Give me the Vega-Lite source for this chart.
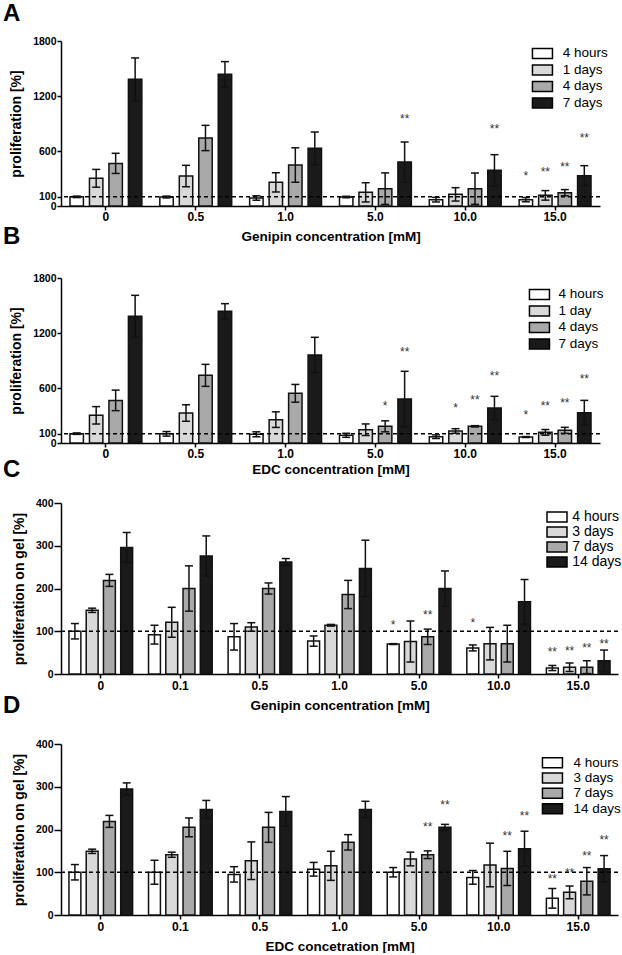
{
"$schema": "https://vega.github.io/schema/vega-lite/v6.json",
"background": "white",
"padding": {"left": 3, "top": 2, "right": 0, "bottom": 0},
"spacing": -18,
"resolve": {"scale": {"fill": "independent", "xOffset": "independent"}},
"datasets": {
"A": [
{"conc":"0","time":"4 hours","mean":100,"lo":92,"hi":108},{"conc":"0","time":"1 days","mean":302,"lo":205,"hi":399},{"conc":"0","time":"4 days","mean":465,"lo":355,"hi":575},{"conc":"0","time":"7 days","mean":1382,"lo":1149,"hi":1615},
{"conc":"0.5","time":"4 hours","mean":98,"lo":88,"hi":108},{"conc":"0.5","time":"1 days","mean":327,"lo":210,"hi":444},{"conc":"0.5","time":"4 days","mean":742,"lo":604,"hi":880},{"conc":"0.5","time":"7 days","mean":1436,"lo":1297,"hi":1575},
{"conc":"1.0","time":"4 hours","mean":87,"lo":63,"hi":111},{"conc":"1.0","time":"1 days","mean":258,"lo":153,"hi":363},{"conc":"1.0","time":"4 days","mean":447,"lo":259,"hi":635},{"conc":"1.0","time":"7 days","mean":629,"lo":451,"hi":807},
{"conc":"5.0","time":"4 hours","mean":98,"lo":90,"hi":106},{"conc":"5.0","time":"1 days","mean":149,"lo":44,"hi":254},{"conc":"5.0","time":"4 days","mean":189,"lo":17,"hi":361},{"conc":"5.0","time":"7 days","mean":480,"lo":262,"hi":698},
{"conc":"10.0","time":"4 hours","mean":69,"lo":44,"hi":94},{"conc":"10.0","time":"1 days","mean":127,"lo":54,"hi":200},{"conc":"10.0","time":"4 days","mean":189,"lo":18,"hi":360},{"conc":"10.0","time":"7 days","mean":389,"lo":218,"hi":560},
{"conc":"15.0","time":"4 hours","mean":69,"lo":46,"hi":92},{"conc":"15.0","time":"1 days","mean":116,"lo":64,"hi":168},{"conc":"15.0","time":"4 days","mean":145,"lo":111,"hi":179},{"conc":"15.0","time":"7 days","mean":331,"lo":222,"hi":440}
],
"As": [
{"conc":"5.0","time":"7 days","s":"**","at":982},{"conc":"10.0","time":"7 days","s":"**","at":873},
{"conc":"15.0","time":"4 hours","s":"*","at":364},{"conc":"15.0","time":"1 days","s":"**","at":400},{"conc":"15.0","time":"4 days","s":"**","at":458},{"conc":"15.0","time":"7 days","s":"**","at":775}
],
"B": [
{"conc":"0","time":"4 hours","mean":102,"lo":94,"hi":110},{"conc":"0","time":"1 day","mean":302,"lo":207,"hi":397},{"conc":"0","time":"4 days","mean":465,"lo":353,"hi":577},{"conc":"0","time":"7 days","mean":1382,"lo":1153,"hi":1611},
{"conc":"0.5","time":"4 hours","mean":100,"lo":75,"hi":125},{"conc":"0.5","time":"1 day","mean":327,"lo":237,"hi":417},{"conc":"0.5","time":"4 days","mean":738,"lo":618,"hi":858},{"conc":"0.5","time":"7 days","mean":1436,"lo":1352,"hi":1520},
{"conc":"1.0","time":"4 hours","mean":95,"lo":68,"hi":122},{"conc":"1.0","time":"1 day","mean":255,"lo":170,"hi":340},{"conc":"1.0","time":"4 days","mean":542,"lo":445,"hi":639},{"conc":"1.0","time":"7 days","mean":960,"lo":767,"hi":1153},
{"conc":"5.0","time":"4 hours","mean":84,"lo":62,"hi":106},{"conc":"5.0","time":"1 day","mean":145,"lo":82,"hi":208},{"conc":"5.0","time":"4 days","mean":182,"lo":122,"hi":242},{"conc":"5.0","time":"7 days","mean":480,"lo":178,"hi":782},
{"conc":"10.0","time":"4 hours","mean":69,"lo":49,"hi":89},{"conc":"10.0","time":"1 day","mean":131,"lo":106,"hi":156},{"conc":"10.0","time":"4 days","mean":182,"lo":175,"hi":189},{"conc":"10.0","time":"7 days","mean":382,"lo":255,"hi":509},
{"conc":"15.0","time":"4 hours","mean":65,"lo":60,"hi":70},{"conc":"15.0","time":"1 day","mean":116,"lo":85,"hi":147},{"conc":"15.0","time":"4 days","mean":138,"lo":105,"hi":171},{"conc":"15.0","time":"7 days","mean":331,"lo":197,"hi":465}
],
"Bs": [
{"conc":"5.0","time":"4 days","s":"*","at":436},{"conc":"5.0","time":"7 days","s":"**","at":1025},
{"conc":"10.0","time":"1 day","s":"*","at":418},{"conc":"10.0","time":"4 days","s":"**","at":502},{"conc":"10.0","time":"7 days","s":"**","at":764},
{"conc":"15.0","time":"4 hours","s":"*","at":335},{"conc":"15.0","time":"1 day","s":"**","at":436},{"conc":"15.0","time":"4 days","s":"**","at":465},{"conc":"15.0","time":"7 days","s":"**","at":727}
],
"C": [
{"conc":"0","time":"4 hours","mean":100,"lo":82,"hi":118},{"conc":"0","time":"3 days","mean":149,"lo":144,"hi":154},{"conc":"0","time":"7 days","mean":219,"lo":205,"hi":233},{"conc":"0","time":"14 days","mean":296,"lo":261,"hi":331},
{"conc":"0.1","time":"4 hours","mean":92,"lo":70,"hi":114},{"conc":"0.1","time":"3 days","mean":121,"lo":86,"hi":156},{"conc":"0.1","time":"7 days","mean":200,"lo":147,"hi":253},{"conc":"0.1","time":"14 days","mean":276,"lo":229,"hi":323},
{"conc":"0.5","time":"4 hours","mean":87,"lo":56,"hi":118},{"conc":"0.5","time":"3 days","mean":110,"lo":100,"hi":120},{"conc":"0.5","time":"7 days","mean":200,"lo":187,"hi":213},{"conc":"0.5","time":"14 days","mean":262,"lo":254,"hi":270},
{"conc":"1.0","time":"4 hours","mean":77,"lo":65,"hi":89},{"conc":"1.0","time":"3 days","mean":114,"lo":112,"hi":116},{"conc":"1.0","time":"7 days","mean":186,"lo":153,"hi":219},{"conc":"1.0","time":"14 days","mean":247,"lo":181,"hi":313},
{"conc":"5.0","time":"4 hours","mean":70,"lo":69,"hi":71},{"conc":"5.0","time":"3 days","mean":76,"lo":28,"hi":124},{"conc":"5.0","time":"7 days","mean":87,"lo":69,"hi":105},{"conc":"5.0","time":"14 days","mean":200,"lo":159,"hi":241},
{"conc":"10.0","time":"4 hours","mean":61,"lo":54,"hi":68},{"conc":"10.0","time":"3 days","mean":71,"lo":33,"hi":109},{"conc":"10.0","time":"7 days","mean":71,"lo":28,"hi":114},{"conc":"10.0","time":"14 days","mean":169,"lo":117,"hi":221},
{"conc":"15.0","time":"4 hours","mean":14,"lo":8,"hi":20},{"conc":"15.0","time":"3 days","mean":16,"lo":6,"hi":26},{"conc":"15.0","time":"7 days","mean":16,"lo":1,"hi":31},{"conc":"15.0","time":"14 days","mean":31,"lo":6,"hi":56}
],
"Cs": [
{"conc":"5.0","time":"4 hours","s":"*","at":122},{"conc":"5.0","time":"7 days","s":"**","at":146},{"conc":"10.0","time":"4 hours","s":"*","at":126},
{"conc":"15.0","time":"4 hours","s":"**","at":59},{"conc":"15.0","time":"3 days","s":"**","at":60},{"conc":"15.0","time":"7 days","s":"**","at":69},{"conc":"15.0","time":"14 days","s":"**","at":77}
],
"D": [
{"conc":"0","time":"4 hours","mean":100,"lo":82,"hi":118},{"conc":"0","time":"3 days","mean":149,"lo":144,"hi":154},{"conc":"0","time":"7 days","mean":219,"lo":205,"hi":233},{"conc":"0","time":"14 days","mean":295,"lo":281,"hi":309},
{"conc":"0.1","time":"4 hours","mean":100,"lo":72,"hi":128},{"conc":"0.1","time":"3 days","mean":141,"lo":135,"hi":147},{"conc":"0.1","time":"7 days","mean":205,"lo":183,"hi":227},{"conc":"0.1","time":"14 days","mean":247,"lo":226,"hi":268},
{"conc":"0.5","time":"4 hours","mean":95,"lo":77,"hi":113},{"conc":"0.5","time":"3 days","mean":127,"lo":83,"hi":171},{"conc":"0.5","time":"7 days","mean":205,"lo":170,"hi":240},{"conc":"0.5","time":"14 days","mean":242,"lo":207,"hi":277},
{"conc":"1.0","time":"4 hours","mean":107,"lo":91,"hi":123},{"conc":"1.0","time":"3 days","mean":115,"lo":81,"hi":149},{"conc":"1.0","time":"7 days","mean":170,"lo":152,"hi":188},{"conc":"1.0","time":"14 days","mean":247,"lo":228,"hi":266},
{"conc":"5.0","time":"4 hours","mean":100,"lo":89,"hi":111},{"conc":"5.0","time":"3 days","mean":131,"lo":115,"hi":147},{"conc":"5.0","time":"7 days","mean":141,"lo":132,"hi":150},{"conc":"5.0","time":"14 days","mean":205,"lo":198,"hi":212},
{"conc":"10.0","time":"4 hours","mean":88,"lo":72,"hi":104},{"conc":"10.0","time":"3 days","mean":117,"lo":66,"hi":168},{"conc":"10.0","time":"7 days","mean":109,"lo":69,"hi":149},{"conc":"10.0","time":"14 days","mean":155,"lo":114,"hi":196},
{"conc":"15.0","time":"4 hours","mean":39,"lo":16,"hi":62},{"conc":"15.0","time":"3 days","mean":53,"lo":38,"hi":68},{"conc":"15.0","time":"7 days","mean":79,"lo":47,"hi":111},{"conc":"15.0","time":"14 days","mean":108,"lo":77,"hi":139}
],
"Ds": [
{"conc":"5.0","time":"7 days","s":"**","at":212},{"conc":"5.0","time":"14 days","s":"**","at":265},
{"conc":"10.0","time":"7 days","s":"**","at":191},{"conc":"10.0","time":"14 days","s":"**","at":239},
{"conc":"15.0","time":"4 hours","s":"**","at":91},{"conc":"15.0","time":"3 days","s":"**","at":106},{"conc":"15.0","time":"7 days","s":"**","at":144},{"conc":"15.0","time":"14 days","s":"**","at":183}
]
},
"vconcat": [
{
"title": {"text": "A", "dx": -58, "offset": 10},
"width": 539, "height": 165,
"layer": [
{"data": {"name": "A"}, "mark": {"type": "bar", "stroke": "#111", "strokeWidth": 1.5},
 "encoding": {
  "x": {"field": "conc", "type": "nominal", "title": "Genipin concentration [mM]", "scale": {"domain": ["0","0.5","1.0","5.0","10.0","15.0"], "paddingInner": 0.2, "paddingOuter": 0.1}, "axis": {"labelPadding": 1, "titlePadding": 7}},
  "xOffset": {"field": "time", "type": "nominal", "scale": {"domain": ["4 hours","1 days","4 days","7 days"], "paddingInner": 0.31, "paddingOuter": 0}},
  "y": {"field": "mean", "type": "quantitative", "title": "proliferation  [%]", "scale": {"domain": [0, 1800]}, "axis": {"values": [0, 100, 600, 1200, 1800], "format": "d"}},
  "fill": {"field": "time", "type": "nominal", "scale": {"domain": ["4 hours","1 days","4 days","7 days"], "range": ["#ffffff","#d9d9d9","#a9a9a9","#1a1a1a"]}, "legend": {"title": null, "legendX": 474.7, "legendY": 5.7, "rowPadding": -0.5, "labelOffset": 13.6}}
 }},
{"data": {"values": [{"ref": 100}]}, "mark": {"type": "rule", "strokeDash": [4, 3], "strokeWidth": 1.5, "color": "#000"},
 "encoding": {"y": {"field": "ref", "type": "quantitative", "title": "proliferation  [%]", "scale": {"domain": [0, 1800]}}}},
{"data": {"name": "A"}, "mark": {"type": "rule", "strokeWidth": 1.5, "color": "#111"},
 "encoding": {
  "x": {"field": "conc", "type": "nominal", "title": "Genipin concentration [mM]"},
  "xOffset": {"field": "time", "type": "nominal"},
  "y": {"field": "lo", "type": "quantitative", "title": "proliferation  [%]", "scale": {"domain": [0, 1800]}},
  "y2": {"field": "hi"}}},
{"data": {"name": "A"}, "mark": {"type": "tick", "size": 8, "thickness": 1.5, "color": "#111", "opacity": 1},
 "encoding": {
  "x": {"field": "conc", "type": "nominal", "title": "Genipin concentration [mM]"},
  "xOffset": {"field": "time", "type": "nominal"},
  "y": {"field": "lo", "type": "quantitative", "title": "proliferation  [%]", "scale": {"domain": [0, 1800]}}}},
{"data": {"name": "A"}, "mark": {"type": "tick", "size": 8, "thickness": 1.5, "color": "#111", "opacity": 1},
 "encoding": {
  "x": {"field": "conc", "type": "nominal", "title": "Genipin concentration [mM]"},
  "xOffset": {"field": "time", "type": "nominal"},
  "y": {"field": "hi", "type": "quantitative", "title": "proliferation  [%]", "scale": {"domain": [0, 1800]}}}},
{"data": {"name": "As"}, "mark": {"type": "text", "fontSize": 12, "color": "#333", "baseline": "alphabetic", "dy": 7},
 "encoding": {
  "x": {"field": "conc", "type": "nominal", "title": "Genipin concentration [mM]"},
  "xOffset": {"field": "time", "type": "nominal"},
  "y": {"field": "at", "type": "quantitative", "title": "proliferation  [%]", "scale": {"domain": [0, 1800]}},
  "text": {"field": "s"}}}
]
},
{
"title": {"text": "B", "dx": -58, "offset": 24},
"width": 539, "height": 165,
"layer": [
{"data": {"name": "B"}, "mark": {"type": "bar", "stroke": "#111", "strokeWidth": 1.5},
 "encoding": {
  "x": {"field": "conc", "type": "nominal", "title": "EDC concentration [mM]", "scale": {"domain": ["0","0.5","1.0","5.0","10.0","15.0"], "paddingInner": 0.2, "paddingOuter": 0.1}, "axis": {"labelPadding": 1, "titlePadding": 3}},
  "xOffset": {"field": "time", "type": "nominal", "scale": {"domain": ["4 hours","1 day","4 days","7 days"], "paddingInner": 0.31, "paddingOuter": 0}},
  "y": {"field": "mean", "type": "quantitative", "title": "proliferation  [%]", "scale": {"domain": [0, 1800]}, "axis": {"values": [0, 100, 600, 1200, 1800], "format": "d"}},
  "fill": {"field": "time", "type": "nominal", "scale": {"domain": ["4 hours","1 day","4 days","7 days"], "range": ["#ffffff","#d9d9d9","#a9a9a9","#1a1a1a"]}, "legend": {"title": null, "legendX": 471.7, "legendY": 9.7, "rowPadding": -0.5, "labelOffset": 12.3}}
 }},
{"data": {"values": [{"ref": 100}]}, "mark": {"type": "rule", "strokeDash": [4, 3], "strokeWidth": 1.5, "color": "#000"},
 "encoding": {"y": {"field": "ref", "type": "quantitative", "title": "proliferation  [%]", "scale": {"domain": [0, 1800]}}}},
{"data": {"name": "B"}, "mark": {"type": "rule", "strokeWidth": 1.5, "color": "#111"},
 "encoding": {
  "x": {"field": "conc", "type": "nominal", "title": "EDC concentration [mM]"},
  "xOffset": {"field": "time", "type": "nominal"},
  "y": {"field": "lo", "type": "quantitative", "title": "proliferation  [%]", "scale": {"domain": [0, 1800]}},
  "y2": {"field": "hi"}}},
{"data": {"name": "B"}, "mark": {"type": "tick", "size": 8, "thickness": 1.5, "color": "#111", "opacity": 1},
 "encoding": {
  "x": {"field": "conc", "type": "nominal", "title": "EDC concentration [mM]"},
  "xOffset": {"field": "time", "type": "nominal"},
  "y": {"field": "lo", "type": "quantitative", "title": "proliferation  [%]", "scale": {"domain": [0, 1800]}}}},
{"data": {"name": "B"}, "mark": {"type": "tick", "size": 8, "thickness": 1.5, "color": "#111", "opacity": 1},
 "encoding": {
  "x": {"field": "conc", "type": "nominal", "title": "EDC concentration [mM]"},
  "xOffset": {"field": "time", "type": "nominal"},
  "y": {"field": "hi", "type": "quantitative", "title": "proliferation  [%]", "scale": {"domain": [0, 1800]}}}},
{"data": {"name": "Bs"}, "mark": {"type": "text", "fontSize": 12, "color": "#333", "baseline": "alphabetic", "dy": 7},
 "encoding": {
  "x": {"field": "conc", "type": "nominal", "title": "EDC concentration [mM]"},
  "xOffset": {"field": "time", "type": "nominal"},
  "y": {"field": "at", "type": "quantitative", "title": "proliferation  [%]", "scale": {"domain": [0, 1800]}},
  "text": {"field": "s"}}}
]
},
{
"title": {"text": "C", "dx": -58, "offset": 16},
"width": 557, "height": 171,
"layer": [
{"data": {"name": "C"}, "mark": {"type": "bar", "stroke": "#111", "strokeWidth": 1.5},
 "encoding": {
  "x": {"field": "conc", "type": "nominal", "title": "Genipin concentration [mM]", "scale": {"domain": ["0","0.1","0.5","1.0","5.0","10.0","15.0"], "paddingInner": 0.2, "paddingOuter": 0.1}, "axis": {"labelPadding": 2, "titlePadding": 7}},
  "xOffset": {"field": "time", "type": "nominal", "scale": {"domain": ["4 hours","3 days","7 days","14 days"], "paddingInner": 0.31, "paddingOuter": 0}},
  "y": {"field": "mean", "type": "quantitative", "title": "proliferation on gel [%]", "scale": {"domain": [0, 400]}, "axis": {"values": [0, 100, 200, 300, 400], "tickSize": 7}},
  "fill": {"field": "time", "type": "nominal", "scale": {"domain": ["4 hours","3 days","7 days","14 days"], "range": ["#ffffff","#d9d9d9","#a9a9a9","#1a1a1a"]}, "legend": {"title": null, "legendX": 489, "legendY": 7, "rowPadding": -2.5, "labelOffset": 8.3, "labelFontSize": 14}}
 }},
{"data": {"values": [{"ref": 100}]}, "mark": {"type": "rule", "strokeDash": [4, 3], "strokeWidth": 1.5, "color": "#000"},
 "encoding": {"y": {"field": "ref", "type": "quantitative", "title": "proliferation on gel [%]", "scale": {"domain": [0, 400]}}}},
{"data": {"name": "C"}, "mark": {"type": "rule", "strokeWidth": 1.5, "color": "#111"},
 "encoding": {
  "x": {"field": "conc", "type": "nominal", "title": "Genipin concentration [mM]"},
  "xOffset": {"field": "time", "type": "nominal"},
  "y": {"field": "lo", "type": "quantitative", "title": "proliferation on gel [%]", "scale": {"domain": [0, 400]}},
  "y2": {"field": "hi"}}},
{"data": {"name": "C"}, "mark": {"type": "tick", "size": 8, "thickness": 1.5, "color": "#111", "opacity": 1},
 "encoding": {
  "x": {"field": "conc", "type": "nominal", "title": "Genipin concentration [mM]"},
  "xOffset": {"field": "time", "type": "nominal"},
  "y": {"field": "lo", "type": "quantitative", "title": "proliferation on gel [%]", "scale": {"domain": [0, 400]}}}},
{"data": {"name": "C"}, "mark": {"type": "tick", "size": 8, "thickness": 1.5, "color": "#111", "opacity": 1},
 "encoding": {
  "x": {"field": "conc", "type": "nominal", "title": "Genipin concentration [mM]"},
  "xOffset": {"field": "time", "type": "nominal"},
  "y": {"field": "hi", "type": "quantitative", "title": "proliferation on gel [%]", "scale": {"domain": [0, 400]}}}},
{"data": {"name": "Cs"}, "mark": {"type": "text", "fontSize": 12, "color": "#333", "baseline": "alphabetic", "dy": 7},
 "encoding": {
  "x": {"field": "conc", "type": "nominal", "title": "Genipin concentration [mM]"},
  "xOffset": {"field": "time", "type": "nominal"},
  "y": {"field": "at", "type": "quantitative", "title": "proliferation on gel [%]", "scale": {"domain": [0, 400]}},
  "text": {"field": "s"}}}
]
},
{
"title": {"text": "D", "dx": -58, "offset": 21},
"width": 557, "height": 171,
"layer": [
{"data": {"name": "D"}, "mark": {"type": "bar", "stroke": "#111", "strokeWidth": 1.5},
 "encoding": {
  "x": {"field": "conc", "type": "nominal", "title": "EDC concetration [mM]", "scale": {"domain": ["0","0.1","0.5","1.0","5.0","10.0","15.0"], "paddingInner": 0.2, "paddingOuter": 0.1}, "axis": {"labelPadding": 2, "titlePadding": 7}},
  "xOffset": {"field": "time", "type": "nominal", "scale": {"domain": ["4 hours","3 days","7 days","14 days"], "paddingInner": 0.31, "paddingOuter": 0}},
  "y": {"field": "mean", "type": "quantitative", "title": "proliferation on gel [%]", "scale": {"domain": [0, 400]}, "axis": {"values": [0, 100, 200, 300, 400], "tickSize": 7}},
  "fill": {"field": "time", "type": "nominal", "scale": {"domain": ["4 hours","3 days","7 days","14 days"], "range": ["#ffffff","#d9d9d9","#a9a9a9","#1a1a1a"]}, "legend": {"title": null, "legendX": 484.7, "legendY": 12, "rowPadding": -1.7, "labelOffset": 14.3}}
 }},
{"data": {"values": [{"ref": 100}]}, "mark": {"type": "rule", "strokeDash": [4, 3], "strokeWidth": 1.5, "color": "#000"},
 "encoding": {"y": {"field": "ref", "type": "quantitative", "title": "proliferation on gel [%]", "scale": {"domain": [0, 400]}}}},
{"data": {"name": "D"}, "mark": {"type": "rule", "strokeWidth": 1.5, "color": "#111"},
 "encoding": {
  "x": {"field": "conc", "type": "nominal", "title": "EDC concetration [mM]"},
  "xOffset": {"field": "time", "type": "nominal"},
  "y": {"field": "lo", "type": "quantitative", "title": "proliferation on gel [%]", "scale": {"domain": [0, 400]}},
  "y2": {"field": "hi"}}},
{"data": {"name": "D"}, "mark": {"type": "tick", "size": 8, "thickness": 1.5, "color": "#111", "opacity": 1},
 "encoding": {
  "x": {"field": "conc", "type": "nominal", "title": "EDC concetration [mM]"},
  "xOffset": {"field": "time", "type": "nominal"},
  "y": {"field": "lo", "type": "quantitative", "title": "proliferation on gel [%]", "scale": {"domain": [0, 400]}}}},
{"data": {"name": "D"}, "mark": {"type": "tick", "size": 8, "thickness": 1.5, "color": "#111", "opacity": 1},
 "encoding": {
  "x": {"field": "conc", "type": "nominal", "title": "EDC concetration [mM]"},
  "xOffset": {"field": "time", "type": "nominal"},
  "y": {"field": "hi", "type": "quantitative", "title": "proliferation on gel [%]", "scale": {"domain": [0, 400]}}}},
{"data": {"name": "Ds"}, "mark": {"type": "text", "fontSize": 12, "color": "#333", "baseline": "alphabetic", "dy": 7},
 "encoding": {
  "x": {"field": "conc", "type": "nominal", "title": "EDC concetration [mM]"},
  "xOffset": {"field": "time", "type": "nominal"},
  "y": {"field": "at", "type": "quantitative", "title": "proliferation on gel [%]", "scale": {"domain": [0, 400]}},
  "text": {"field": "s"}}}
]
}
],
"config": {
 "font": "Liberation Sans",
 "view": {"stroke": null},
 "axis": {"grid": false, "domainColor": "#000", "domainWidth": 1.5, "tickColor": "#000", "tickWidth": 1.5, "labelColor": "#000", "labelFont": "Liberation Sans", "labelFontWeight": "bold", "titleColor": "#000", "titleFont": "Liberation Sans", "titleFontWeight": "bold"},
 "axisX": {"labelAngle": 0, "tickSize": 4, "labelFontSize": 12, "titleFontSize": 13.5},
 "axisY": {"tickSize": 4, "labelPadding": 1, "labelFontSize": 10.5, "titleFontSize": 14, "titlePadding": 9, "labelOverlap": false},
 "legend": {"orient": "none", "labelFont": "Liberation Sans", "labelFontSize": 13.5, "labelColor": "#000", "symbolType": "M-2,-1H2V1H-2Z", "symbolSize": 100, "symbolStrokeColor": "#000", "symbolStrokeWidth": 1.5, "padding": 0, "labelLimit": 200},
 "title": {"font": "Liberation Sans", "fontSize": 24, "fontWeight": "bold", "anchor": "start", "frame": "group", "color": "#000", "baseline": "alphabetic"}
}
}
